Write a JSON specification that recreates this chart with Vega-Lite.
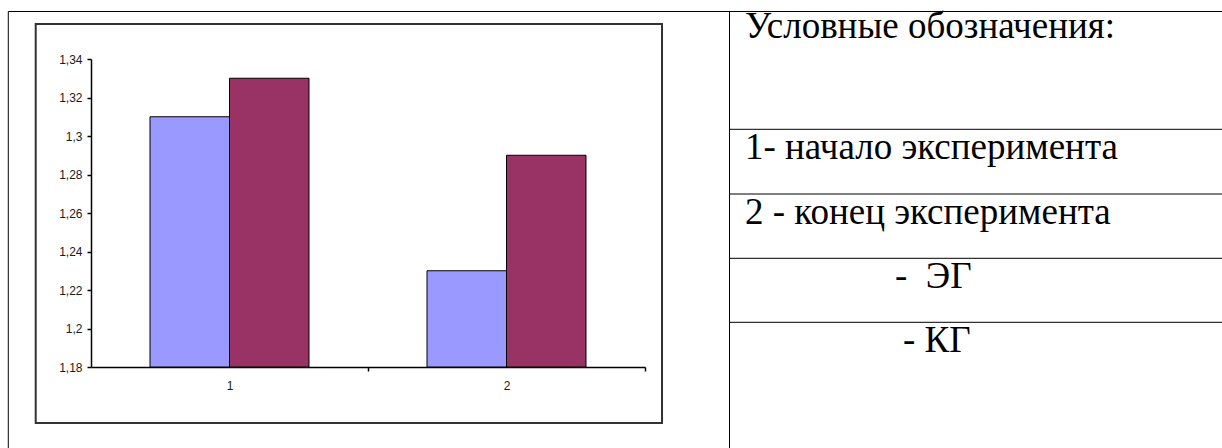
{
  "$schema": "https://vega.github.io/schema/vega-lite/v6.json",
  "width": 554,
  "height": 308,
  "autosize": {"type": "none"},
  "padding": {"left": 91, "top": 59, "right": 577, "bottom": 81},
  "background": "white",
  "config": {"view": {"stroke": null}},
  "resolve": {"scale": {"x": "independent"}},
  "layer": [
    {
      "data": {"values": [
        {"period": "1", "group": "ЭГ", "value": 1.31},
        {"period": "1", "group": "КГ", "value": 1.33},
        {"period": "2", "group": "ЭГ", "value": 1.23},
        {"period": "2", "group": "КГ", "value": 1.29}
      ]},
      "mark": {"type": "bar", "stroke": "#000000", "strokeWidth": 1},
      "encoding": {
        "x": {"field": "period", "type": "nominal",
          "scale": {"paddingInner": 0.426, "paddingOuter": 0.213},
          "axis": {"title": null, "labelAngle": 0, "bandPosition": 1, "tickExtra": false, "tickOffset": 58.6, "labelOffset": -58.6, "domainColor": "#000000", "domainWidth": 1.5, "tickColor": "#000000", "tickWidth": 1.5, "tickSize": 4, "labelFont": "Liberation Sans", "labelFontSize": 12, "labelColor": "#1a1a1a", "labelPadding": 9}},
        "xOffset": {"field": "group", "type": "nominal", "sort": ["ЭГ", "КГ"], "scale": {"paddingInner": 0, "paddingOuter": 0}},
        "y": {"field": "value", "type": "quantitative",
          "scale": {"domain": [1.18, 1.34], "zero": false, "nice": false},
          "axis": {"title": null, "values": [1.18, 1.2, 1.22, 1.24, 1.26, 1.28, 1.3, 1.32, 1.34], "tickCount": 20, "format": ".2~f", "labelExpr": "replace(datum.label, '.', ',')", "labelOverlap": false, "grid": false, "domainColor": "#000000", "domainWidth": 1.5, "tickColor": "#000000", "tickWidth": 1.5, "tickSize": 4, "labelFont": "Liberation Sans", "labelFontSize": 12, "labelColor": "#1a1a1a", "labelPadding": 5}},
        "y2": {"datum": 1.18},
        "color": {"field": "group", "type": "nominal", "scale": {"domain": ["ЭГ", "КГ"], "range": ["#9999ff", "#993366"]}, "legend": null}
      }
    },
    {
      "data": {"values": [{}]},
      "mark": {"type": "rect", "clip": false, "fill": "transparent", "stroke": "#333333", "strokeWidth": 2},
      "encoding": {
        "x": {"datum": -0.1996, "type": "quantitative", "scale": {"domain": [0, 2], "nice": false, "zero": false}, "axis": null},
        "x2": {"datum": 2.0614},
        "y": {"datum": 1.150909, "type": "quantitative", "scale": {"domain": [1.18, 1.34], "zero": false, "nice": false}},
        "y2": {"datum": 1.358182}
      }
    },
    {
      "data": {"values": [{}]},
      "mark": {"type": "rule", "clip": false, "color": "#000000", "strokeWidth": 1},
      "encoding": {
        "x": {"datum": -0.2986, "type": "quantitative", "scale": {"domain": [0, 2], "nice": false, "zero": false}, "axis": null},
        "x2": {"datum": 4.3},
        "y": {"datum": 1.364675, "type": "quantitative", "scale": {"domain": [1.18, 1.34], "zero": false, "nice": false}}
      }
    },
    {
      "data": {"values": [{}]},
      "mark": {"type": "rule", "clip": false, "color": "#000000", "strokeWidth": 1},
      "encoding": {
        "x": {"datum": -0.2986, "type": "quantitative", "scale": {"domain": [0, 2], "nice": false, "zero": false}, "axis": null},
        "y": {"datum": 1.364675, "type": "quantitative", "scale": {"domain": [1.18, 1.34], "zero": false, "nice": false}},
        "y2": {"datum": 1.12}
      }
    },
    {
      "data": {"values": [{}]},
      "mark": {"type": "rule", "clip": false, "color": "#000000", "strokeWidth": 1},
      "encoding": {
        "x": {"datum": 2.3051, "type": "quantitative", "scale": {"domain": [0, 2], "nice": false, "zero": false}, "axis": null},
        "y": {"datum": 1.364675, "type": "quantitative", "scale": {"domain": [1.18, 1.34], "zero": false, "nice": false}},
        "y2": {"datum": 1.12}
      }
    },
    {
      "data": {"values": [{}]},
      "mark": {"type": "rule", "clip": false, "color": "#000000", "strokeWidth": 1},
      "encoding": {
        "x": {"datum": 2.3051, "type": "quantitative", "scale": {"domain": [0, 2], "nice": false, "zero": false}, "axis": null},
        "x2": {"datum": 4.3},
        "y": {"datum": 1.303481, "type": "quantitative", "scale": {"domain": [1.18, 1.34], "zero": false, "nice": false}}
      }
    },
    {
      "data": {"values": [{}]},
      "mark": {"type": "rule", "clip": false, "color": "#000000", "strokeWidth": 1},
      "encoding": {
        "x": {"datum": 2.3051, "type": "quantitative", "scale": {"domain": [0, 2], "nice": false, "zero": false}, "axis": null},
        "x2": {"datum": 4.3},
        "y": {"datum": 1.26987, "type": "quantitative", "scale": {"domain": [1.18, 1.34], "zero": false, "nice": false}}
      }
    },
    {
      "data": {"values": [{}]},
      "mark": {"type": "rule", "clip": false, "color": "#000000", "strokeWidth": 1},
      "encoding": {
        "x": {"datum": 2.3051, "type": "quantitative", "scale": {"domain": [0, 2], "nice": false, "zero": false}, "axis": null},
        "x2": {"datum": 4.3},
        "y": {"datum": 1.236468, "type": "quantitative", "scale": {"domain": [1.18, 1.34], "zero": false, "nice": false}}
      }
    },
    {
      "data": {"values": [{}]},
      "mark": {"type": "rule", "clip": false, "color": "#000000", "strokeWidth": 1},
      "encoding": {
        "x": {"datum": 2.3051, "type": "quantitative", "scale": {"domain": [0, 2], "nice": false, "zero": false}, "axis": null},
        "x2": {"datum": 4.3},
        "y": {"datum": 1.203221, "type": "quantitative", "scale": {"domain": [1.18, 1.34], "zero": false, "nice": false}}
      }
    },
    {
      "data": {"values": [{"label": "Условные обозначения:"}]},
      "mark": {"type": "text", "clip": false, "align": "left", "baseline": "alphabetic", "font": "Liberation Serif, serif", "fontSize": 37, "color": "#000000"},
      "encoding": {
        "text": {"field": "label"},
        "x": {"datum": 2.361, "type": "quantitative", "scale": {"domain": [0, 2], "nice": false, "zero": false}, "axis": null},
        "y": {"datum": 1.3509, "type": "quantitative", "scale": {"domain": [1.18, 1.34], "zero": false, "nice": false}}
      }
    },
    {
      "data": {"values": [{"label": "1- начало эксперимента"}]},
      "mark": {"type": "text", "clip": false, "align": "left", "baseline": "alphabetic", "font": "Liberation Serif, serif", "fontSize": 37, "color": "#000000"},
      "encoding": {
        "text": {"field": "label"},
        "x": {"datum": 2.361, "type": "quantitative", "scale": {"domain": [0, 2], "nice": false, "zero": false}, "axis": null},
        "y": {"datum": 1.2879, "type": "quantitative", "scale": {"domain": [1.18, 1.34], "zero": false, "nice": false}}
      }
    },
    {
      "data": {"values": [{"label": "2 - конец эксперимента"}]},
      "mark": {"type": "text", "clip": false, "align": "left", "baseline": "alphabetic", "font": "Liberation Serif, serif", "fontSize": 37, "color": "#000000"},
      "encoding": {
        "text": {"field": "label"},
        "x": {"datum": 2.361, "type": "quantitative", "scale": {"domain": [0, 2], "nice": false, "zero": false}, "axis": null},
        "y": {"datum": 1.2543, "type": "quantitative", "scale": {"domain": [1.18, 1.34], "zero": false, "nice": false}}
      }
    },
    {
      "data": {"values": [{"label": "-\u00a0\u00a0ЭГ"}]},
      "mark": {"type": "text", "clip": false, "align": "left", "baseline": "alphabetic", "font": "Liberation Serif, serif", "fontSize": 37, "color": "#000000"},
      "encoding": {
        "text": {"field": "label"},
        "x": {"datum": 2.9025, "type": "quantitative", "scale": {"domain": [0, 2], "nice": false, "zero": false}, "axis": null},
        "y": {"datum": 1.2209, "type": "quantitative", "scale": {"domain": [1.18, 1.34], "zero": false, "nice": false}}
      }
    },
    {
      "data": {"values": [{"label": "-\u00a0КГ"}]},
      "mark": {"type": "text", "clip": false, "align": "left", "baseline": "alphabetic", "font": "Liberation Serif, serif", "fontSize": 37, "color": "#000000"},
      "encoding": {
        "text": {"field": "label"},
        "x": {"datum": 2.9314, "type": "quantitative", "scale": {"domain": [0, 2], "nice": false, "zero": false}, "axis": null},
        "y": {"datum": 1.1876, "type": "quantitative", "scale": {"domain": [1.18, 1.34], "zero": false, "nice": false}}
      }
    }
  ]
}
